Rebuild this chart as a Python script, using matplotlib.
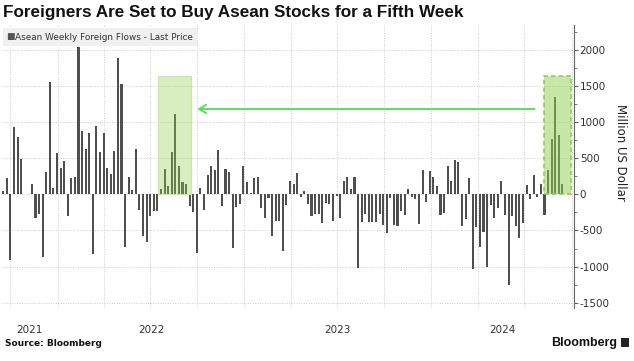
import numpy as np
import matplotlib
matplotlib.use('Agg')
import matplotlib.pyplot as plt
import matplotlib.dates as mdates
import matplotlib.transforms as mtransforms
from matplotlib.patches import Rectangle

# weekly foreign flows into Asean stocks, million USD
first_week = np.datetime64('2021-09-17')
flows = [
    45, 232, -911, 930, 795, 493, 5, 5, 140, -330, -265, -874, 307, 1553, 93,
    577, 363, 460, -302, 232, 242, 2046, 879, 628, 846, -832, 953, 590, 846,
    363, 279, 609, 1893, 1530, -730, 237, 65, 628, -219, -581, -656, -302,
    -228, -228, 70, 349, 116, 590, 1121, 395, 172, 149, -163, -242,
    -814, 84, -214, 274, 395, 335, 614, -167, 353, 307, -744, -177, -135, 391,
    167, 19, 223, 237, -195, -321, -47, -581, -363, -372, -786, -149, 181,
    140, 302, -33, 47, -135, -302, -265, -274, -391, -121, -135, -372, -23,
    -326, 191, 246, 74, 237, -1014, -377, -274, -377, -377, -386, -274, -419,
    -540,
    -47, -423, -437, -223, -279, 79, -33, -60, -405, 335, -107, 330, 237, 112,
    -284, -256, 395, 181, 474, 446, -442, -344, 223, -1037, -451, -725, -525,
    -1000, -153, -326, -191, 191, -288, -1260, -298, -442, -605, -400, 135,
    -65, 265, -33, 140, -279, 340, 767, 1353, 823, 140,
]
weeks = first_week + np.arange(len(flows)) * np.timedelta64(7, 'D')
x = mdates.date2num(weeks.astype('datetime64[D]').astype(object))

# highlighted buying streaks (bar index ranges) and their box height
streak_2022 = (44, 51)
streak_2024 = (152, 156)
box_top = 1640
arrow_level = 1185

y_ticks = [-1500, -1000, -500, 0, 500, 1000, 1500, 2000]
years = [2021, 2022, 2023, 2024]

fig = plt.figure(figsize=(6.34, 3.61), dpi=100)
ax = fig.add_axes([2 / 634, 1 - 308 / 361, 571.5 / 634, 283 / 361])

wk = 7.0
ax.bar(x, flows, width=wk * 0.58, color='#4f4f4f', zorder=3)

ax.set_xlim(x[0] - 0.35 * wk, x[-1] + 3.1 * wk)
ax.set_ylim(-1575, 2350)

# green boxes over the streaks
b1l = x[streak_2022[0]] - 0.7 * wk
b1r = x[streak_2022[1]] + 1.35 * wk
ax.add_patch(Rectangle((b1l, 0), b1r - b1l, box_top, facecolor='#8fd14f',
                       alpha=0.35, edgecolor='none', zorder=4))
ax.add_patch(Rectangle((b1l, 0), b1r - b1l, box_top, facecolor='none',
                       edgecolor='#c6e8a0', lw=0.8, zorder=4))
b2l = x[streak_2024[0]] - 1.0 * wk
b2r = x[streak_2024[1]] + 2.5 * wk
ax.add_patch(Rectangle((b2l, 0), b2r - b2l, box_top, facecolor='#8fd14f',
                       alpha=0.5, edgecolor='none', zorder=4))
ax.add_patch(Rectangle((b2l, 0), b2r - b2l, box_top, facecolor='none',
                       edgecolor='#8cc850', lw=1.1, ls=(0, (3, 2)), zorder=4))

# arrow pointing back at the 2022 streak
ax.annotate('', xy=(b1r + 1.0 * wk, arrow_level),
            xytext=(b2l - 2.0 * wk, arrow_level),
            arrowprops=dict(arrowstyle='->,head_length=0.5,head_width=0.3',
                            color='#5be05b', lw=1.4), zorder=5)

# grid: dotted, quarterly verticals
ax.set_yticks(y_ticks)
ax.yaxis.set_minor_locator(matplotlib.ticker.MultipleLocator(250))
ax.xaxis.set_major_locator(mdates.MonthLocator(bymonth=[1, 4, 7, 10]))
ax.xaxis.set_major_formatter(matplotlib.ticker.NullFormatter())
ax.tick_params(axis='x', length=0)
ax.grid(True, which='major', color='#cccccc', ls=(0, (1, 1.5)), lw=0.7, zorder=0)

ax.yaxis.tick_right()
ax.tick_params(axis='y', which='major', length=3, color='#666666',
               labelsize=7.5, labelcolor='#333333', pad=1.5)
ax.tick_params(axis='y', which='minor', length=2, color='#666666')
ax.set_yticklabels([str(v) for v in y_ticks])

for s in ['top', 'left', 'bottom']:
    ax.spines[s].set_visible(False)
ax.spines['right'].set_color('#666666')
ax.spines['right'].set_linewidth(0.8)

# year labels centred on the visible part of each year
lo, hi = ax.get_xlim()
trans = mtransforms.blended_transform_factory(ax.transData, ax.transAxes)
for yr in years:
    a = max(lo, mdates.date2num(np.datetime64(f'{yr}-01-01').astype(object)))
    b = min(hi, mdates.date2num(np.datetime64(f'{yr + 1}-01-01').astype(object)))
    ax.text((a + b) / 2, -0.078, str(yr), transform=trans, ha='center',
            va='center', fontsize=7.5, color='#333333')

# legend box
fig.patches.append(Rectangle((3 / 634, 1 - 46 / 361), 194 / 634, 18 / 361,
                             transform=fig.transFigure, facecolor='#f0f0f0',
                             edgecolor='none', zorder=1))
fig.text(6 / 634, 1 - 37 / 361, '■', fontsize=6.5, color='#555555',
         va='center', ha='left')
fig.text(15 / 634, 1 - 37 / 361, 'Asean Weekly Foreign Flows - Last Price',
         fontsize=6.4, color='#333333', va='center', ha='left')

ax.text(1.082, 0.55, 'Million US Dollar', transform=ax.transAxes, rotation=270,
        ha='center', va='center', fontsize=8.5, color='#222222')

fig.text(3 / 634, 1 - 12 / 361,
         'Foreigners Are Set to Buy Asean Stocks for a Fifth Week',
         fontsize=12.3, fontweight='bold', va='center', ha='left',
         family=['Liberation Sans', 'DejaVu Sans'], color='#111111')
fig.text(5 / 634, 1 - 343 / 361, 'Source: Bloomberg', fontsize=6.5,
         fontweight='bold', va='center', ha='left', color='#111111')
fig.text(617 / 634, 1 - 343 / 361, 'Bloomberg', fontsize=9,
         fontweight='bold', va='center', ha='right', color='#111111',
         family=['Liberation Sans', 'DejaVu Sans'])
fig.patches.append(Rectangle((621 / 634, 1 - 347 / 361), 8 / 634, 9 / 361,
                             transform=fig.transFigure, facecolor='#222222',
                             edgecolor='none'))

fig.savefig('out.png', dpi=100)
